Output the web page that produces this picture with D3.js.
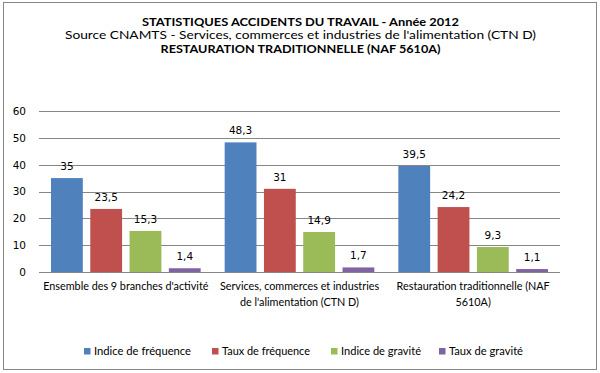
<!DOCTYPE html>
<html><head><meta charset="utf-8">
<script src="https://cdn.jsdelivr.net/npm/d3@7"></script>
<style>body{margin:0;background:#fff}</style>
</head><body>
<svg id="c" width="600" height="373"></svg>
<script>
const categories = [["Ensemble des 9 branches d'activité"], ["Services, commerces et industries", "de l'alimentation (CTN D)"], ["Restauration traditionnelle (NAF", "5610A)"]];
const seriesNames = ["Indice de fréquence", "Taux de fréquence", "Indice de gravité", "Taux de gravité"];
const indiceFrequence = [35, 48.3, 39.5];
const tauxFrequence = [23.5, 31, 24.2];
const indiceGravite = [15.3, 14.9, 9.3];
const tauxGravite = [1.4, 1.7, 1.1];
const yTicks = [0, 10, 20, 30, 40, 50, 60];
const colors = ["#4F81BD", "#C0504D", "#9BBB59", "#8064A2"];
const titleLines = ["STATISTIQUES ACCIDENTS DU TRAVAIL - Année 2012", "Source CNAMTS -  Services, commerces et industries de l'alimentation (CTN D)", "RESTAURATION TRADITIONNELLE (NAF 5610A)"];

const series = [indiceFrequence, tauxFrequence, indiceGravite, tauxGravite];
const svg = d3.select("#c");
svg.append("rect").attr("x", 3.5).attr("y", 2.5).attr("width", 593).attr("height", 367)
  .attr("fill", "#fff").attr("stroke", "#868686").attr("stroke-width", 1);

const txtFont = "Lato, 'Open Sans', sans-serif";
const numFont = "'DejaVu Sans', Verdana, sans-serif";
const tw = [700, 400, 700];
const ty = [26, 39.3, 52.6];
const tLen = [317, 471, 280];
titleLines.forEach((t, i) => {
  svg.append("text").attr("x", 300.5).attr("y", ty[i]).attr("text-anchor", "middle")
    .attr("font-family", txtFont).attr("font-size", 11).attr("font-weight", tw[i])
    .attr("textLength", tLen[i]).attr("lengthAdjust", "spacingAndGlyphs").attr("fill", "#000").text(t);
});

const x0 = d3.scaleBand().domain(d3.range(3)).range([39, 560]).paddingInner(0).paddingOuter(0);
const x1 = d3.scaleBand().domain(d3.range(4)).range([12, x0.bandwidth() - 12]).paddingInner(0.19).paddingOuter(0);
const y = d3.scaleLinear().domain([0, 60]).range([272, 111]);

const grid = svg.append("g");
yTicks.forEach(t => {
  grid.append("line").attr("x1", 39).attr("x2", 560).attr("y1", Math.round(y(t)) + 0.5).attr("y2", Math.round(y(t)) + 0.5)
    .attr("stroke", "#868686").attr("stroke-width", 1);
});
const yAxis = svg.append("g").attr("transform", "translate(39,0)")
  .call(d3.axisLeft(y).tickValues(yTicks).tickSize(0).tickPadding(13));
yAxis.select(".domain").remove();
yAxis.selectAll("text").attr("font-family", numFont).attr("font-size", 10.5).attr("fill", "#000");

const fmt = v => String(v).replace(".", ",");
series.forEach((s, si) => {
  const g = svg.append("g");
  g.selectAll("rect").data(s).join("rect")
    .attr("x", (d, i) => x0(i) + x1(si)).attr("width", x1.bandwidth())
    .attr("y", d => y(d)).attr("height", d => y(0) - y(d)).attr("fill", colors[si]);
  g.selectAll("text").data(s).join("text")
    .attr("x", (d, i) => x0(i) + x1(si) + x1.bandwidth() / 2).attr("y", d => y(d) - 8)
    .attr("text-anchor", "middle").attr("font-family", numFont).attr("font-size", 10.5)
    .attr("fill", "#000").text(d => fmt(d));
});

categories.forEach((lines, i) => {
  lines.forEach((l, li) => {
    svg.append("text").attr("x", x0(i) + x0.bandwidth() / 2).attr("y", 290 + li * 15.5)
      .attr("text-anchor", "middle").attr("font-family", txtFont).attr("font-size", 10.8).attr("fill", "#000").text(l);
  });
});

const legX = [84, 212, 331, 439];
const legLen = [97, 88, 80, 74];
seriesNames.forEach((n, i) => {
  svg.append("rect").attr("x", legX[i]).attr("y", 348).attr("width", 6.5).attr("height", 6.5).attr("fill", colors[i]);
  svg.append("text").attr("x", legX[i] + 10).attr("y", 355).attr("font-family", txtFont).attr("font-size", 11)
    .attr("textLength", legLen[i]).attr("lengthAdjust", "spacingAndGlyphs").attr("fill", "#000").text(n);
});
</script>
</body></html>
